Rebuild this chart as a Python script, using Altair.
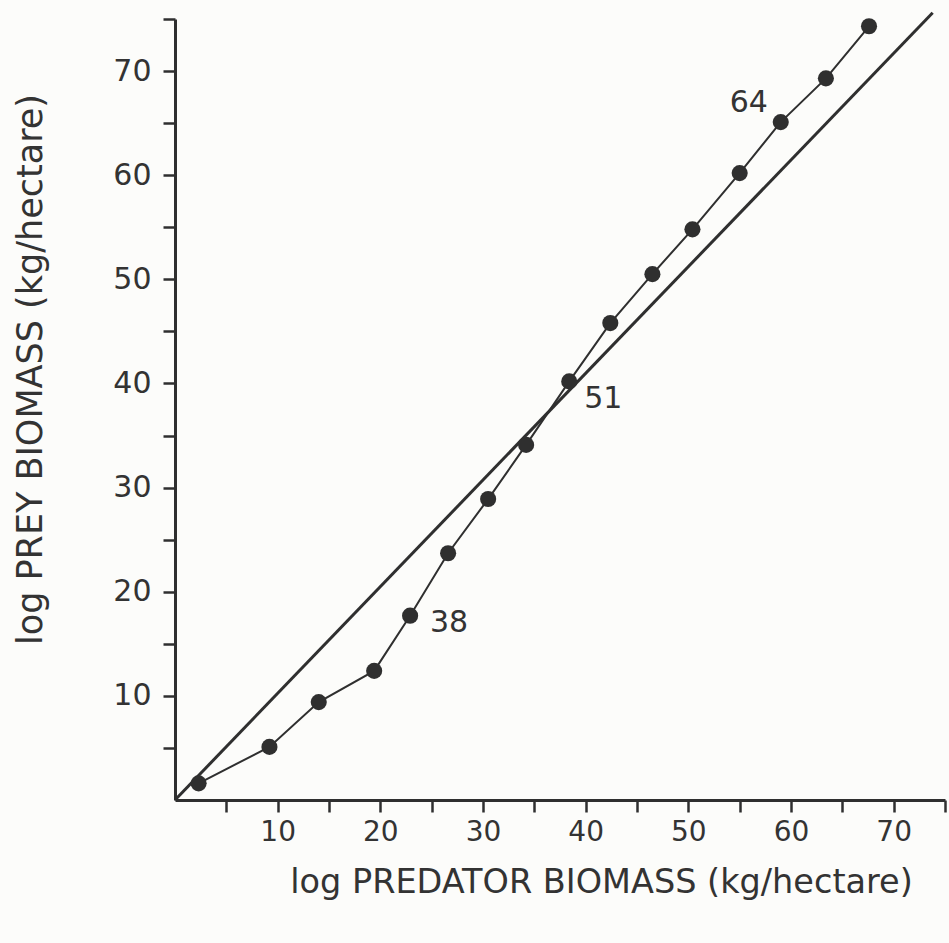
import altair as alt
import pandas as pd

# Predator vs prey biomass series (log scale values)
predator = [2.3, 9.2, 14.0, 19.4, 22.9, 26.6, 30.5, 34.2, 38.4, 42.4, 46.5, 50.4, 55.0, 59.0, 63.4, 67.6]
prey = [1.6, 5.1, 9.4, 12.4, 17.7, 23.7, 28.9, 34.1, 40.2, 45.8, 50.5, 54.8, 60.2, 65.1, 69.3, 74.3]

# Reference line
ref_x = [0.0, 73.8]
ref_y = [0.0, 75.6]

# Labelled points (index into the series) and their labels
label_index = [4, 8, 13]
label_text = ["38", "51", "64"]

INK = "#2f2f2f"
TEXT = "#333333"
FONT = "DejaVu Sans"

series = pd.DataFrame({"order": range(len(predator)), "predator": predator, "prey": prey})
ref = pd.DataFrame({"predator": ref_x, "prey": ref_y})
labels = pd.DataFrame({
    "predator": [predator[i] for i in label_index],
    "prey": [prey[i] for i in label_index],
    "text": label_text,
})

tick_vals = [5, 10, 15, 20, 25, 30, 35, 40, 45, 50, 55, 60, 65, 70, 75]
label_expr = "datum.value % 10 == 0 && datum.value <= 70 ? datum.label : ''"

x_enc = alt.X(
    "predator:Q",
    scale=alt.Scale(domain=[0, 75], nice=False, zero=True),
    axis=alt.Axis(
        title="log PREDATOR BIOMASS (kg/hectare)",
        values=tick_vals, labelExpr=label_expr, grid=False,
        tickSize=12, tickWidth=2.5, tickColor=INK,
        domainColor=INK, domainWidth=3,
        labelFont=FONT, labelFontSize=28, labelColor=TEXT, labelPadding=6,
        titleFont=FONT, titleFontSize=33.5, titleFontWeight="normal", titleColor=TEXT,
        titleX=426, titleY=82, titleAlign="center", titleBaseline="middle",
    ),
)
y_enc = alt.Y(
    "prey:Q",
    scale=alt.Scale(domain=[0, 75], nice=False, zero=True),
    axis=alt.Axis(
        title="log PREY BIOMASS (kg/hectare)",
        values=tick_vals, labelExpr=label_expr, grid=False,
        tickSize=12, tickWidth=2.5, tickColor=INK,
        domainColor=INK, domainWidth=3,
        labelFont=FONT, labelFontSize=30, labelColor=TEXT, labelPadding=12,
        titleFont=FONT, titleFontSize=35, titleFontWeight="normal", titleColor=TEXT,
        titleX=-145, titleY=350, titleAlign="center", titleBaseline="middle",
    ),
)

ref_line = alt.Chart(ref).mark_line(color=INK, strokeWidth=3).encode(x=x_enc, y=y_enc)

path = alt.Chart(series).mark_line(color=INK, strokeWidth=2).encode(
    x="predator:Q", y="prey:Q", order="order:Q"
)

dots = alt.Chart(series).mark_circle(color=INK, opacity=1, size=260).encode(
    x="predator:Q", y="prey:Q"
)

offsets = {"38": (39, 7), "51": (34, 18), "64": (-32, -19)}
text_layers = []
for t, (dx, dy) in offsets.items():
    text_layers.append(
        alt.Chart(labels)
        .transform_filter(alt.datum.text == t)
        .mark_text(font=FONT, fontSize=30, color=TEXT, dx=dx, dy=dy, align="center", baseline="middle")
        .encode(x="predator:Q", y="prey:Q", text="text:N")
    )

chart = (
    alt.layer(ref_line, path, dots, *text_layers)
    .properties(
        width=770,
        height=781,
        autosize="none",
        padding={"left": 175, "top": 19, "right": 4, "bottom": 143},
        background="#fcfcfa",
    )
    .configure_view(stroke=None)
)

chart.save("out.html", embed_options={"renderer": "svg", "actions": False})
